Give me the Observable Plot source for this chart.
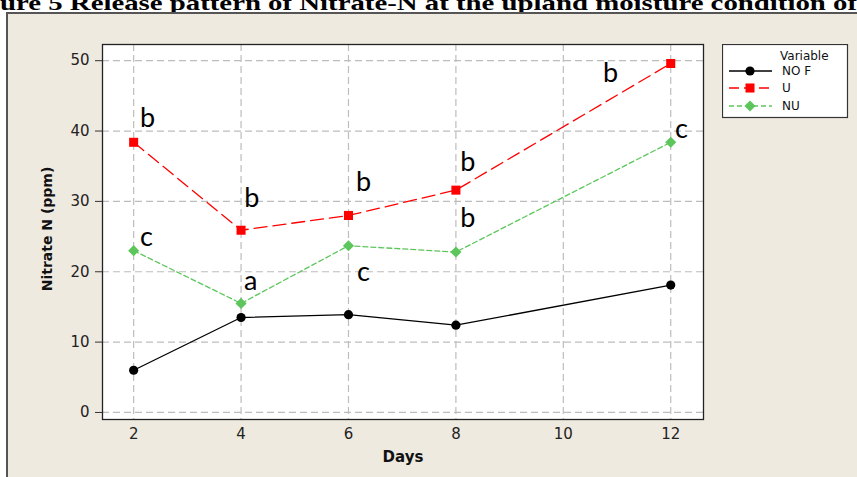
<!DOCTYPE html>
<html><head><meta charset="utf-8">
<script src="https://cdn.jsdelivr.net/npm/d3@7"></script>
<script src="https://cdn.jsdelivr.net/npm/@observablehq/plot@0.6"></script>
<style>
body{margin:0;background:#fff;width:857px;height:477px;overflow:hidden;position:relative;}
#title{position:absolute;left:0;top:0;}
#panel{position:absolute;left:6px;top:12px;width:900px;height:500px;background:#EFEAE0;border:2px solid #555;box-sizing:border-box}
#chart{position:absolute;left:0;top:0}
#legend{position:absolute;left:722px;top:44px}
</style></head><body>
<svg id="title" width="857" height="14"><text x="0" y="10" textLength="857" lengthAdjust="spacingAndGlyphs" font-family="Liberation Serif" font-weight="bold" font-size="21">ure 5 Release pattern of Nitrate-N at the upland moisture condition of</text></svg>
<div id="panel"></div>
<div id="chart"></div>
<svg id="legend" width="127" height="75"></svg>
<script>
const days = [2, 4, 6, 8, 12];
const noF = [6.0, 13.5, 13.9, 12.4, 18.1];
const urea = [38.4, 25.9, 28.0, 31.6, 49.6];
const nu = [23.0, 15.5, 23.7, 22.8, 38.4];
const seriesNames = ["NO F", "U", "NU"];
const letterText = ["b", "b", "b", "b", "b", "b", "c", "a", "c", "c"];
const letterDay = [2.26, 4.2, 6.28, 8.22, 8.22, 10.88, 2.24, 4.18, 6.28, 12.2];
const letterValue = [41.8, 30.4, 32.7, 35.5, 27.6, 48.2, 24.9, 18.6, 19.9, 40.3];
const xTicks = [2, 4, 6, 8, 10, 12];
const yTicks = [0, 10, 20, 30, 40, 50];

const seriesValues = [noF, urea, nu];
const styles = {
  "NO F": {stroke: "#000000", dash: null, symbol: "circle", r: 4.6},
  "U": {stroke: "#FF0000", dash: "13,6", symbol: "square", r: 5.1},
  "NU": {stroke: "#5CC65C", dash: "5,3", symbol: "diamond2", r: 5.0}
};
const rows = [];
seriesNames.forEach((s, i) => days.forEach((d, j) => rows.push({series: s, day: d, value: seriesValues[i][j]})));
const letters = letterText.map((t, i) => ({t, day: letterDay[i], value: letterValue[i]}));

const marks = [
  Plot.frame({fill: "white", stroke: "none"}),
  Plot.gridX(xTicks, {stroke: "#BDBDBD", strokeOpacity: 1, strokeDasharray: "7,4", strokeWidth: 1.2}),
  Plot.gridY(yTicks, {stroke: "#BDBDBD", strokeOpacity: 1, strokeDasharray: "7,4", strokeWidth: 1.2})
];
seriesNames.forEach(s => {
  const st = styles[s];
  const data = rows.filter(r => r.series === s);
  marks.push(Plot.line(data, {x: "day", y: "value", stroke: st.stroke, strokeWidth: 1.3, strokeDasharray: st.dash}));
});
seriesNames.forEach(s => {
  const st = styles[s];
  const data = rows.filter(r => r.series === s);
  marks.push(Plot.dot(data, {x: "day", y: "value", fill: st.stroke, stroke: "none", symbol: st.symbol, r: st.r}));
});
marks.push(
  Plot.frame({stroke: "#222", strokeWidth: 1.3}),
  Plot.axisX(xTicks, {tickSize: 0, tickPadding: 9, fontSize: 15, fill: "#222", label: null}),
  Plot.axisY(yTicks, {tickSize: 7, tickPadding: 6, fontSize: 15, fill: "#222", stroke: "#333", label: null}),
  Plot.text(letters, {x: "day", y: "value", text: "t", fontSize: 27, fontFamily: "Lato", fill: "#000"}),
  Plot.text(["Days"], {text: d => d, frameAnchor: "bottom", lineAnchor: "middle", textAnchor: "middle", dy: 38, fontWeight: "bold", fontSize: 15, fill: "#111"}),
  Plot.text(["Nitrate N (ppm)"], {text: d => d, frameAnchor: "left", lineAnchor: "middle", textAnchor: "middle", dx: -55, dy: -3, rotate: -90, fontWeight: "bold", fontSize: 14, fill: "#111"})
);

const chart = Plot.plot({
  width: 857,
  height: 477,
  marginLeft: 102,
  marginRight: 154,
  marginTop: 44,
  marginBottom: 58,
  x: {domain: [1.42, 12.61], axis: null},
  y: {domain: [-1.0, 52.3], axis: null},
  style: {fontFamily: "DejaVu Sans", background: "transparent", overflow: "visible"},
  marks
});
document.getElementById("chart").appendChild(chart);

// legend
const lg = d3.select("#legend");
lg.append("rect").attr("x", 0.5).attr("y", 0.5).attr("width", 125).attr("height", 73)
  .attr("fill", "white").attr("stroke", "#333").attr("stroke-width", 1.2);
lg.append("text").attr("x", 58).attr("y", 16).attr("font-family", "DejaVu Sans").attr("font-size", 12).attr("fill", "#111").text("Variable");
const rowY = [27, 44, 62];
const symMap = {circle: d3.symbolCircle, square: d3.symbolSquare, diamond2: d3.symbolDiamond2};
seriesNames.forEach((s, i) => {
  const st = styles[s];
  const y = rowY[i];
  lg.append("line").attr("x1", 7).attr("x2", 50).attr("y1", y).attr("y2", y)
    .attr("stroke", st.stroke).attr("stroke-width", 1.3).attr("stroke-dasharray", st.dash === "13,6" ? "10,5" : st.dash);
  lg.append("path").attr("transform", `translate(28,${y})`)
    .attr("d", d3.symbol(symMap[st.symbol], Math.PI * st.r * st.r)()).attr("fill", st.stroke);
  lg.append("text").attr("x", 60).attr("y", y).attr("dy", "0.36em").attr("font-family", "DejaVu Sans").attr("font-size", 12).attr("fill", "#111").text(s);
});
</script>
</body></html>
